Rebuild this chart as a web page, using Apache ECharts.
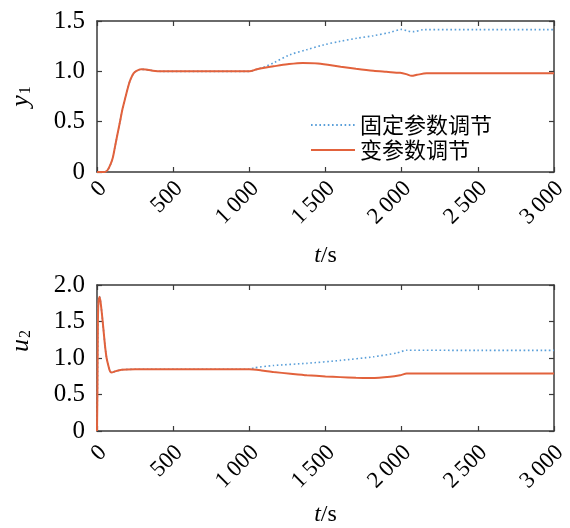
<!DOCTYPE html>
<html>
<head>
<meta charset="utf-8">
<script src="https://cdn.jsdelivr.net/npm/echarts@6/dist/echarts.min.js"></script>
<style>
html,body{margin:0;padding:0;background:#fff;}
#main{width:570px;height:528px;}
</style>
</head>
<body>
<div id="main"></div>
<script>
// ---- data ----
const legendNames = ['固定参数调节', '变参数调节'];
const xTickValues = [0, 500, 1000, 1500, 2000, 2500, 3000];
const xTickLabels = ['0', '500', '1\u2009000', '1\u2009500', '2\u2009000', '2\u2009500', '3\u2009000'];
const y1TickLabels = ['0', '0.5', '1.0', '1.5'];
const u2TickLabels = ['0', '0.5', '1.0', '1.5', '2.0'];

// y1, fixed-parameter control
const tY1Fixed = [0,50,70,90,105,118,135,151,168,188,205,220,240,260,290,320,360,420,700,1000,1050,1100,1160,1267,1377,1486,1596,1705,1814,1924,2000,2040,2077,2143,2500,3000];
const y1Fixed  = [0,0,0.02,0.08,0.15,0.25,0.38,0.5,0.63,0.75,0.85,0.92,0.98,1.005,1.02,1.018,1.008,1.0,1.0,1.0,1.02,1.045,1.085,1.165,1.215,1.262,1.298,1.328,1.354,1.387,1.417,1.40,1.394,1.414,1.414,1.414];
// y1, variable-parameter control
const tY1Var = [0,50,70,90,105,118,135,151,168,188,205,220,240,260,290,320,360,420,700,1000,1050,1100,1160,1250,1350,1450,1600,1700,1814,1900,1990,2030,2066,2100,2164,2300,3000];
const y1Var  = [0,0,0.02,0.08,0.15,0.25,0.38,0.5,0.63,0.75,0.85,0.92,0.98,1.005,1.02,1.018,1.008,1.0,1.0,1.0,1.02,1.035,1.05,1.07,1.083,1.078,1.045,1.025,1.005,0.995,0.985,0.972,0.955,0.965,0.98,0.982,0.982];

// u2, fixed-parameter control
const tU2Fixed = [0,3,6,10,17,24,31,42,52,63,74,85,96,118,162,250,1000,1030,1158,1377,1596,1814,1968,2033,2500,3000];
const u2Fixed  = [0,0.6,1.5,1.78,1.84,1.76,1.63,1.40,1.18,1.0,0.9,0.82,0.80,0.817,0.839,0.846,0.846,0.865,0.897,0.927,0.967,1.016,1.069,1.107,1.104,1.104];
// u2, variable-parameter control
const tU2Var = [0,3,6,10,17,24,31,42,52,63,74,85,96,118,162,250,1000,1080,1158,1270,1377,1500,1596,1700,1800,1924,1990,2033,2060,3000];
const u2Var  = [0,0.6,1.5,1.78,1.84,1.76,1.63,1.40,1.18,1.0,0.9,0.82,0.80,0.817,0.839,0.846,0.846,0.83,0.808,0.785,0.764,0.748,0.738,0.728,0.725,0.742,0.764,0.786,0.786,0.786];

// ---- build ----
const pair = (ts, vs) => ts.map((t, i) => [t, vs[i]]);
const BLUE = '#5a9fd9';
const RED = '#e2623c';
const AX = '#3a3a3a';
const SERIF = 'Liberation Serif';
const CJK = 'Noto Sans CJK SC';

function xTickFmt(v) { return xTickLabels[xTickValues.indexOf(Math.round(v))] || ''; }

const lineAxis = { show: true, onZero: false, lineStyle: { color: AX, width: 1.5 } };
const inTick = { show: true, inside: true, length: 5, lineStyle: { color: AX, width: 1.2 } };

function xAxisBottom(gi) {
  return {
    type: 'value', gridIndex: gi, min: 0, max: 3000, interval: 500, position: 'bottom',
    axisLine: lineAxis, axisTick: inTick, splitLine: { show: false },
    axisLabel: { show: false },
    name: '{i|t}{n|/s}', nameLocation: 'middle', nameGap: 72,
    nameTextStyle: { rich: {
      i: { fontFamily: SERIF, fontStyle: 'italic', fontSize: 24, color: '#000' },
      n: { fontFamily: SERIF, fontSize: 24, color: '#000' } } }
  };
}
// tick labels drawn on a twin grid offset a few pixels right, as in the reference
function xAxisLabels(gi) {
  return {
    type: 'value', gridIndex: gi, min: 0, max: 3000, interval: 500, position: 'bottom',
    axisLine: { show: false }, axisTick: { show: false }, splitLine: { show: false },
    axisLabel: { rotate: 45, margin: 13, color: '#000', fontFamily: SERIF, fontSize: 23,
      formatter: xTickFmt, hideOverlap: false, showMinLabel: true, showMaxLabel: true }
  };
}
function hiddenY(gi) {
  return { type: 'value', gridIndex: gi, min: 0, max: 1, show: false };
}
function xAxisTop(gi) {
  return {
    type: 'value', gridIndex: gi, min: 0, max: 3000, interval: 500, position: 'top',
    axisLine: lineAxis, axisTick: inTick, splitLine: { show: false }, axisLabel: { show: false }
  };
}
function yAxisLeft(gi, max, labels, nameMain, nameSub, namePad) {
  return {
    type: 'value', gridIndex: gi, min: 0, max: max, interval: 0.5, position: 'left',
    axisLine: lineAxis, axisTick: inTick, splitLine: { show: false },
    axisLabel: { margin: 12, color: '#000', fontFamily: SERIF, fontSize: 25,
      formatter: v => labels[Math.round(v / 0.5)] },
    name: '{i|' + nameMain + '}{s|' + nameSub + '}', nameLocation: 'middle', nameGap: 63, nameRotate: 90,
    nameTextStyle: { padding: namePad, rich: {
      i: { fontFamily: SERIF, fontStyle: 'italic', fontSize: 26, color: '#000' },
      s: { fontFamily: SERIF, fontSize: 16, color: '#000', verticalAlign: 'bottom', padding: [10, 0, 0, 1] } } }
  };
}
function yAxisRight(gi, max) {
  return {
    type: 'value', gridIndex: gi, min: 0, max: max, interval: 0.5, position: 'right',
    axisLine: lineAxis, axisTick: inTick, splitLine: { show: false }, axisLabel: { show: false }
  };
}

const chart = echarts.init(document.getElementById('main'), null, { renderer: 'canvas' });
chart.setOption({
  animation: false,
  backgroundColor: '#fff',
  grid: [
    { left: 97, right: 16, top: 21, height: 151 },
    { left: 97, right: 16, top: 285, height: 151 },
    { left: 103, right: 10, top: 21, height: 151 },
    { left: 103, right: 10, top: 285, height: 151 }
  ],
  xAxis: [xAxisBottom(0), xAxisTop(0), xAxisBottom(1), xAxisTop(1), xAxisLabels(2), xAxisLabels(3)],
  yAxis: [yAxisLeft(0, 1.5, y1TickLabels, 'y', '1', [0, 0, 0, 0]), yAxisRight(0, 1.5),
          yAxisLeft(1, 2.0, u2TickLabels, 'u', '2', [0, 0, 0, 34]), yAxisRight(1, 2.0),
          hiddenY(2), hiddenY(3)],
  legend: {
    data: legendNames, orient: 'vertical', left: 305, top: 109,
    itemWidth: 44, itemHeight: 14, itemGap: 3,
    itemStyle: { opacity: 0 },
    textStyle: { fontFamily: CJK, fontSize: 22, color: '#000' }
  },
  series: [
    { name: legendNames[0], type: 'line', xAxisIndex: 0, yAxisIndex: 0, data: pair(tY1Fixed, y1Fixed),
      symbol: 'none', smooth: 0.3, color: BLUE, lineStyle: { color: BLUE, width: 1.6, type: [1.6, 2.6] } },
    { name: legendNames[1], type: 'line', xAxisIndex: 0, yAxisIndex: 0, data: pair(tY1Var, y1Var),
      symbol: 'none', smooth: 0.3, color: RED, lineStyle: { color: RED, width: 2 } },
    { name: legendNames[0], type: 'line', xAxisIndex: 2, yAxisIndex: 2, data: pair(tU2Fixed, u2Fixed),
      symbol: 'none', smooth: 0.2, color: BLUE, lineStyle: { color: BLUE, width: 1.6, type: [1.6, 2.6] } },
    { name: legendNames[1], type: 'line', xAxisIndex: 2, yAxisIndex: 2, data: pair(tU2Var, u2Var),
      symbol: 'none', smooth: 0.2, color: RED, lineStyle: { color: RED, width: 2 } }
  ]
});
</script>
</body>
</html>
